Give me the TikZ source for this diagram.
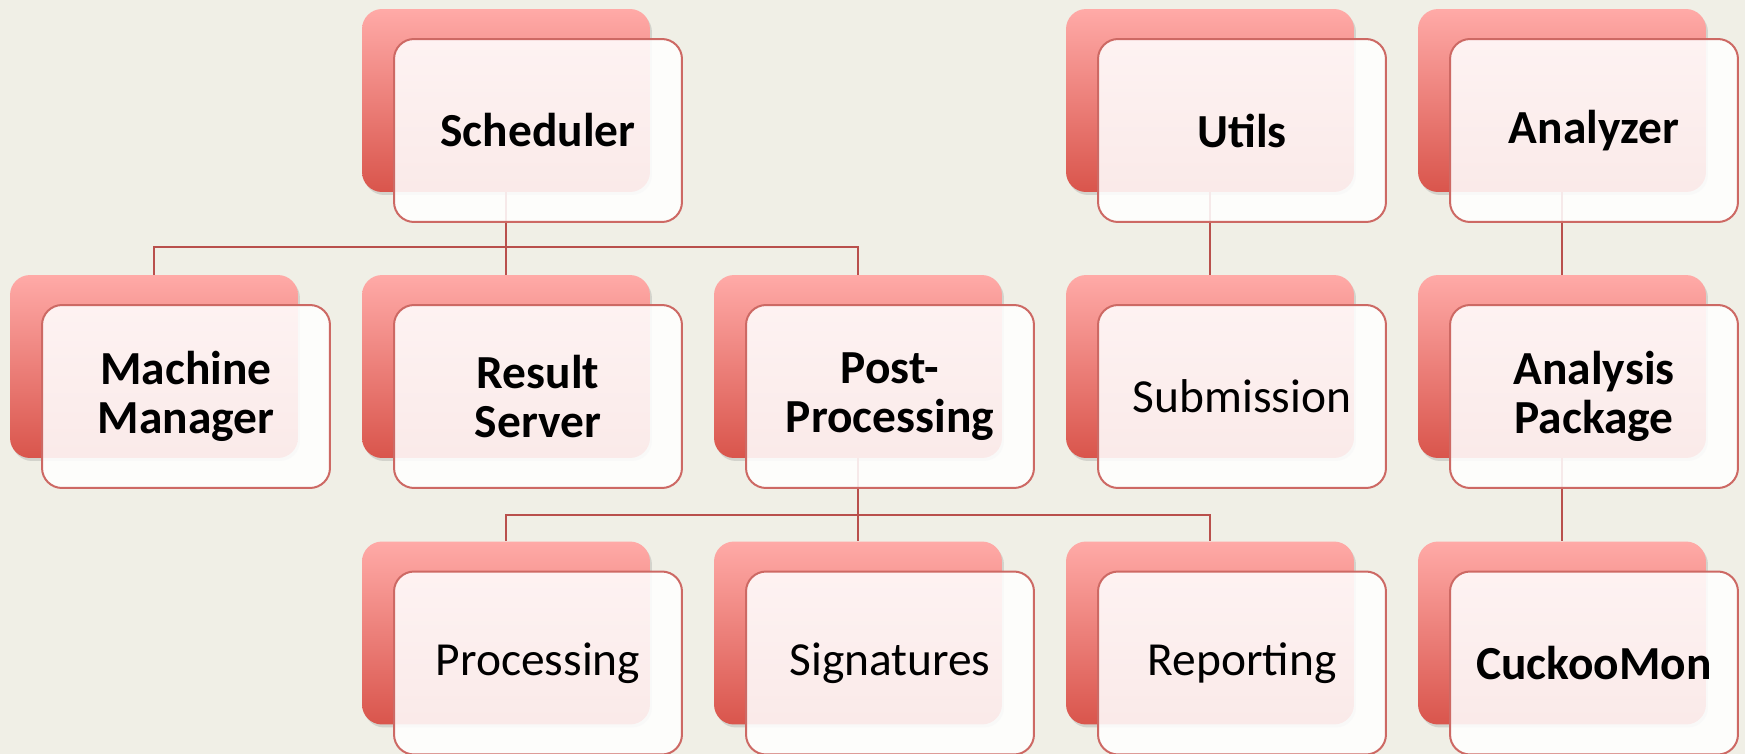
\documentclass[tikz,border=0pt]{standalone}
\usepackage{fontspec}
\setmainfont{Carlito}
\usepackage{tikz}
\usetikzlibrary{shadows}

\definecolor{pagebg}{RGB}{240,239,230}
\definecolor{backtop}{RGB}{255,170,167}
\definecolor{backbottom}{RGB}{217,85,76}
\definecolor{frontline}{RGB}{205,105,100}
\definecolor{busline}{RGB}{185,80,76}

\tikzset{
  backbox/.style={rounded corners=0.4cm, minimum width=5.76cm, minimum height=3.66cm,
    inner sep=0pt, top color=backtop, bottom color=backbottom,
    drop shadow={shadow xshift=0.04cm, shadow yshift=-0.06cm, opacity=0.25}},
  frontbox/.style={rounded corners=0.4cm, minimum width=5.76cm, minimum height=3.66cm,
    inner sep=0pt, draw=frontline, line width=0.04cm, fill=white, fill opacity=0.88,
    text opacity=1, align=center, font=\fontsize{27}{28}\selectfont\bfseries},
  lighttext/.style={font=\fontsize{27}{28}\selectfont\mdseries},
  bus/.style={draw=busline, line width=0.04cm}
}

\begin{document}
\begin{tikzpicture}[x=0.02cm, y=-0.02cm]
      \fill[pagebg] (0,0) rectangle (1745,754);
      \useasboundingbox (0,0) rectangle (1745,754);

      % back boxes
      \node[backbox] (schedback) at (506,100.5) {};
      \node[backbox] (utilsback) at (1210,100.5) {};
      \node[backbox] (anlzback) at (1562,100.5) {};
      \node[backbox] (mmback) at (154,366.5) {};
      \node[backbox] (rsback) at (506,366.5) {};
      \node[backbox] (ppback) at (858,366.5) {};
      \node[backbox] (subback) at (1210,366.5) {};
      \node[backbox] (apback) at (1562,366.5) {};
      \node[backbox] (procback) at (506,633) {};
      \node[backbox] (sigback) at (858,633) {};
      \node[backbox] (repback) at (1210,633) {};
      \node[backbox] (cmback) at (1562,633) {};

      % connectors
      \coordinate (schedbus) at (506,247);
      \coordinate (ppbus) at (858,515);
      \draw[bus] (schedback.south) -- (schedbus);
      \draw[bus] (mmback.north) |- (schedbus) -| (ppback.north);
      \draw[bus] (schedbus) -- (rsback.north);
      \draw[bus] (ppback.south) -- (ppbus);
      \draw[bus] (procback.north) |- (ppbus) -| (repback.north);
      \draw[bus] (ppbus) -- (sigback.north);
      \draw[bus] (utilsback.south) -- (subback.north);
      \draw[bus] (anlzback.south) -- (apback.north);
      \draw[bus] (apback.south) -- (cmback.north);

      % front boxes
      \node[frontbox] (sched) at (538,130.5) {Scheduler};
      \node[frontbox] (utils) at (1242,130.5) {Utils};
      \node[frontbox] (anlz) at (1594,130.5) {Analyzer};
      \node[frontbox] (mm) at (186,396.5) {Machine\\Manager};
      \node[frontbox] (rs) at (538,396.5) {Result\\Server};
      \node[frontbox] (pp) at (890,396.5) {Post-\\Processing};
      \node[frontbox, lighttext] (sub) at (1242,396.5) {Submission};
      \node[frontbox] (ap) at (1594,396.5) {Analysis\\Package};
      \node[frontbox, lighttext] (proc) at (538,663) {Processing};
      \node[frontbox, lighttext] (sig) at (890,663) {Signatures};
      \node[frontbox, lighttext] (rep) at (1242,663) {Reporting};
      \node[frontbox] (cm) at (1594,663) {CuckooMon};
    \end{tikzpicture}
\end{document}
